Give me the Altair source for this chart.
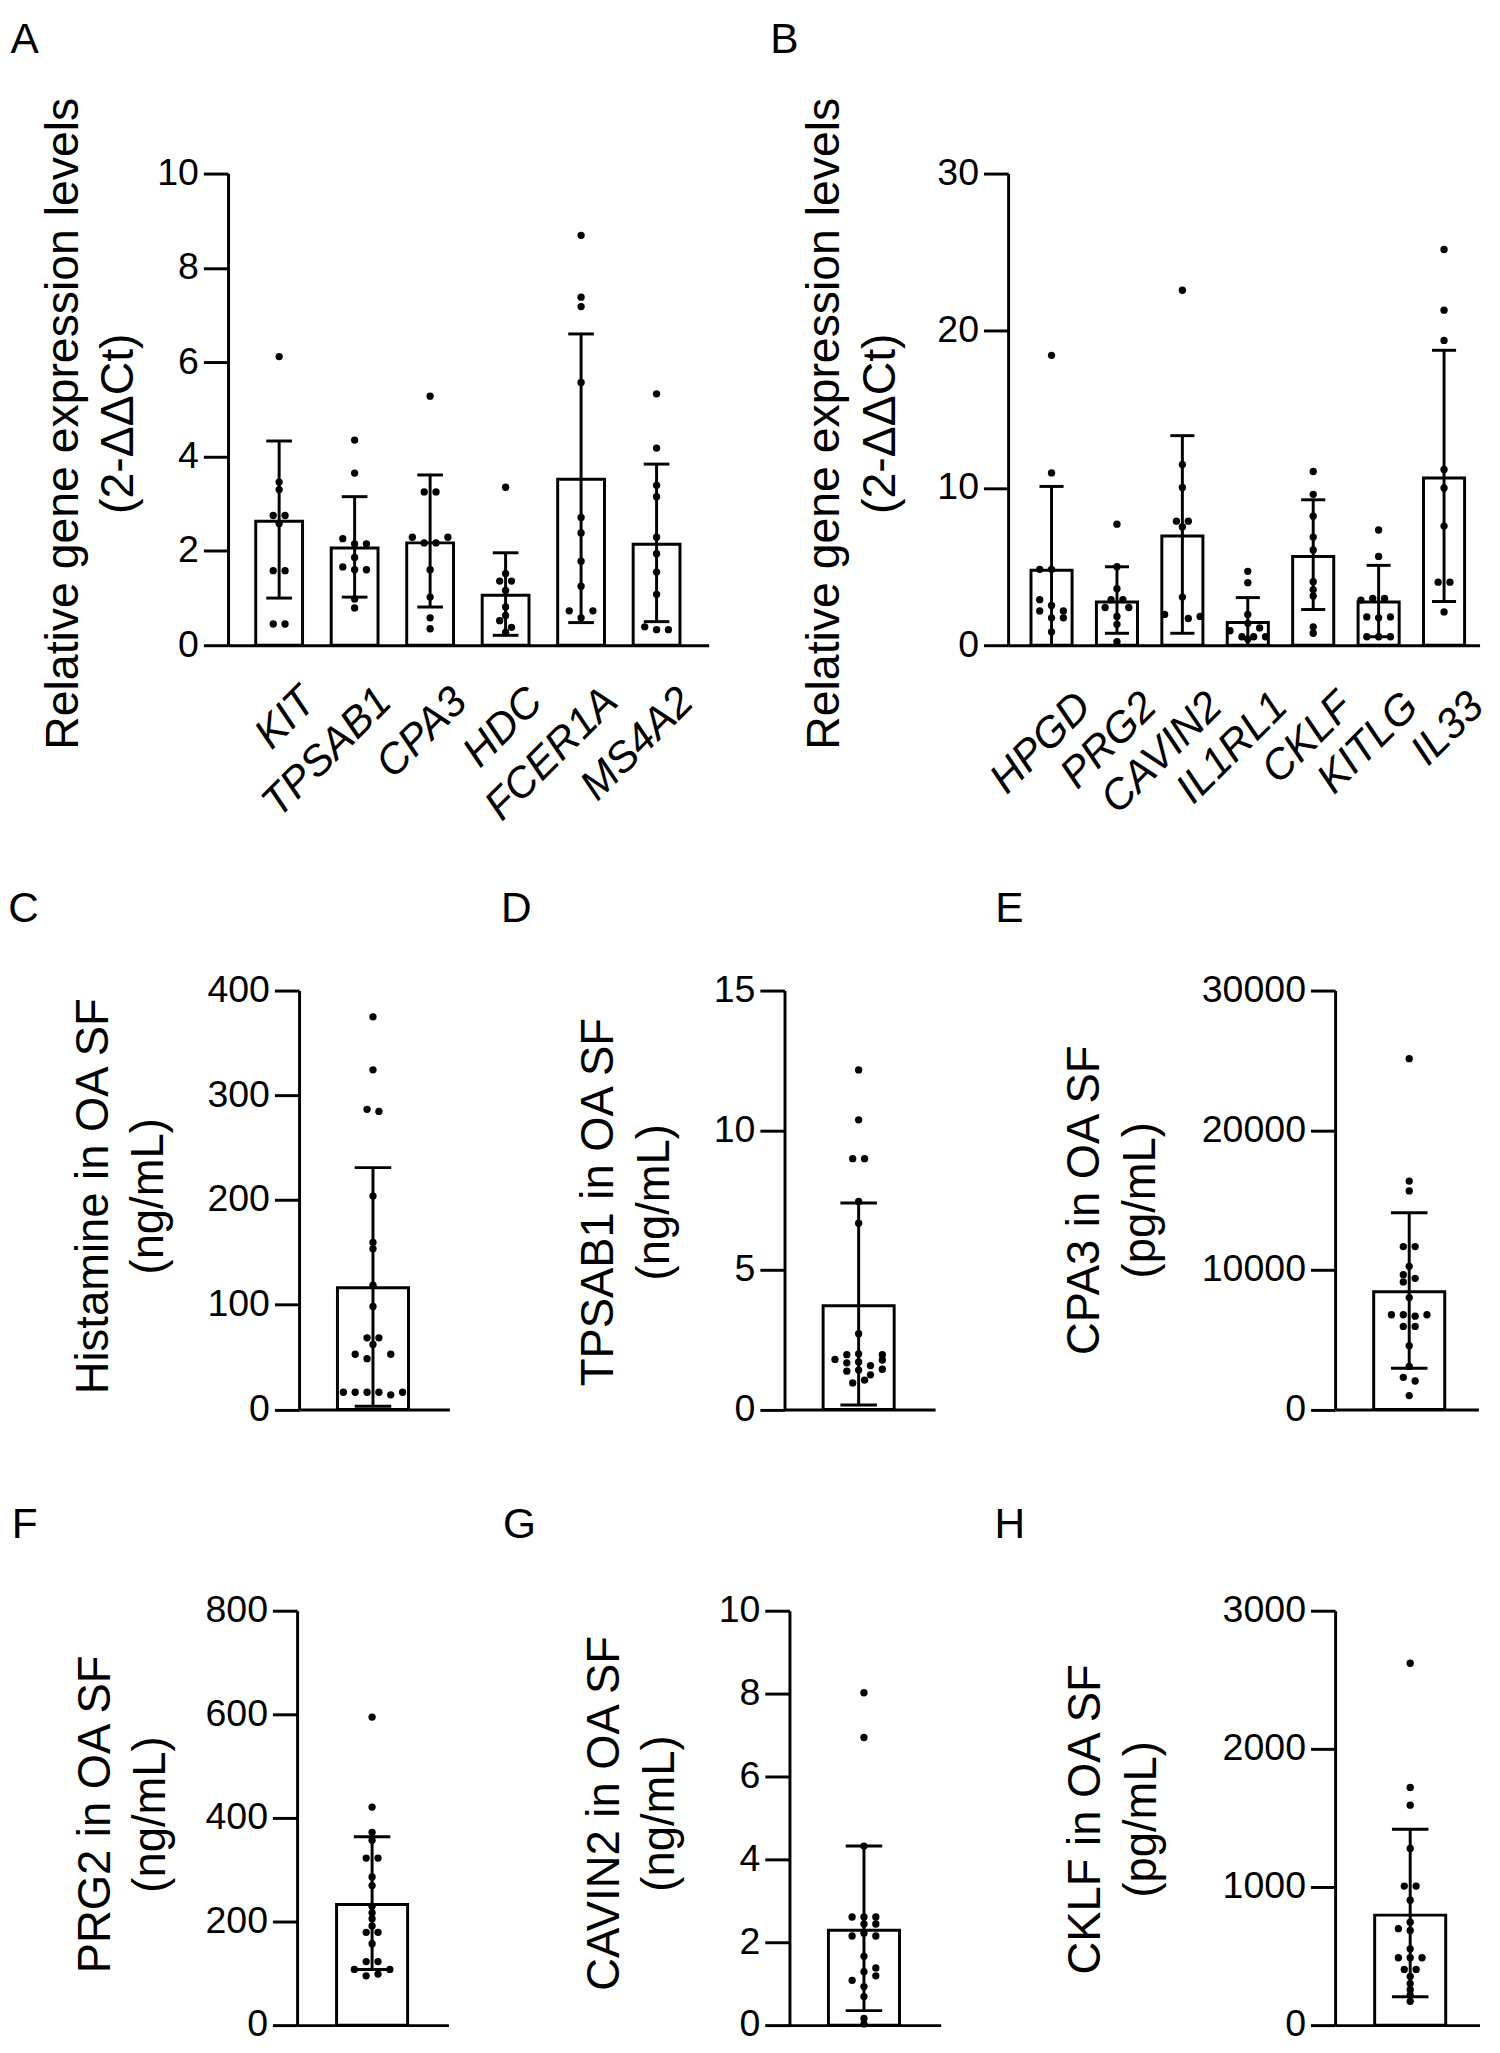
import json
import altair as alt
import pandas as pd

FONT = "Liberation Sans"

# ---------------- data ----------------
# Panel A
a_genes = ["KIT", "TPSAB1", "CPA3", "HDC", "FCER1A", "MS4A2"]
a_mean = [2.63, 2.06, 2.17, 1.06, 3.52, 2.14]
a_upper = [4.33, 3.15, 3.61, 1.96, 6.60, 3.84]
a_lower = [1.00, 1.02, 0.81, 0.21, 0.48, 0.50]
a_points = [
    [6.12, 3.46, 3.30, 2.75, 2.75, 2.58, 1.58, 1.58, 0.45, 0.45],
    [4.35, 3.65, 2.26, 2.15, 2.15, 1.86, 1.66, 1.60, 1.60, 0.98, 0.79],
    [5.28, 3.25, 3.25, 2.29, 2.29, 2.17, 2.17, 1.60, 1.02, 0.58, 0.35],
    [3.35, 1.52, 1.36, 1.36, 1.16, 0.81, 0.63, 0.52, 0.38, 0.27],
    [8.69, 7.38, 7.18, 5.57, 2.71, 2.38, 1.78, 1.25, 0.73, 0.73, 0.58],
    [5.33, 4.18, 3.39, 3.15, 2.29, 1.94, 1.55, 1.08, 0.39, 0.33, 0.33],
]
a_jitter = [
    [0, 0, 0, -1, 1, 0, -1, 1, -1, 1],
    [0, 0, -2, 0, 2, 0, -2, 0, 2, 0, 0],
    [0, -1, 1, -3, 3, -1, 1, 0, 0, 0, 0],
    [0, 0, -1, 1, 0, 0, 0, -1, 1, 0],
    [0, 0, 0, 0, 0, 0, 0, 0, -2, 2, 0],
    [0, 0, 0, 0, 0, 0, 0, 0, -2, 0, 2],
]

# Panel B
b_genes = ["HPGD", "PRG2", "CAVIN2", "IL1RL1", "CKLF", "KITLG", "IL33"]
b_mean = [4.77, 2.75, 6.95, 1.45, 5.65, 2.75, 10.64]
b_upper = [10.10, 4.99, 13.33, 3.03, 9.25, 5.08, 18.76]
b_lower = [0.0, 0.76, 0.76, 0.0, 2.27, 0.54, 2.78]
b_points = [
    [18.44, 10.96, 4.83, 4.83, 2.90, 2.53, 2.18, 2.18, 1.74, 1.74, 0.85],
    [7.70, 4.99, 3.60, 2.90, 2.90, 2.40, 2.40, 1.83, 1.33, 0.22],
    [22.58, 11.49, 10.04, 7.89, 7.89, 7.52, 3.06, 1.96, 1.83, 1.70],
    [4.70, 3.98, 1.96, 1.39, 1.10, 0.92, 0.54, 0.54, 0.54, 0.38],
    [11.05, 9.60, 8.21, 6.88, 6.06, 4.04, 3.54, 3.13, 1.17, 0.76],
    [7.33, 5.65, 2.97, 2.97, 2.87, 1.80, 1.74, 1.80, 0.54, 0.54, 0.54],
    [25.17, 21.31, 19.39, 11.18, 10.00, 7.58, 4.01, 4.01, 2.12],
]
b_jitter = [
    [0, 0, -2, 0, -2, 0, -2, 2, 0, 2, 0],
    [0, 0, 0, -1, 1, -2, 2, 0, 0, 0],
    [0, 0, 0, -1, 1, 0, 0, -3, 3, 1],
    [0, 0, 0, 0, 2, -3, -1, 1, 3, 0],
    [0, 0, 0, 0, 0, 0, 0, 0, 0, 0],
    [0, 0, -1, 1, -3, -2, 0, 2, -2, 0, 2],
    [0, 0, 0, 0, 0, 0, -1, 1, 0],
]

# Panel C: Histamine (ng/mL)
c_mean, c_upper, c_lower = 116.1, 230.9, 3.1
c_points = [374.9, 324.3, 286.6, 284.6, 203.7, 159.4, 153.4, 118.6, 98.3, 68.4, 68.4,
            62.1, 52.7, 52.7, 48.5, 16.4, 16.4, 16.4, 16.4, 16.4, 13.9]
c_jitter = [0, 0, -1, 1, 0, 0, 0, 0, 0, -1, 1, 0, -3, 3, -1, -5, -3, -1, 1, 5, 3]

# Panel D: TPSAB1 (ng/mL)
d_mean, d_upper, d_lower = 3.71, 7.39, 0.16
d_points = [12.16, 10.37, 8.98, 8.98, 7.45, 6.67, 2.71, 1.79, 1.96, 1.67, 1.37,
            1.99, 1.70, 1.41, 1.57, 1.96, 1.77, 1.44, 0.95, 1.05, 1.24]
d_jitter = [0, 0, -1, 1, 0, 0, 0, -4, -2, -2, -2, 0, 0, 0, 2, 4, 4, 4, -1, 1, 2]

# Panel E: CPA3 (pg/mL)
e_mean, e_upper, e_lower = 8426, 14087, 2948
e_points = [25122, 16357, 15652, 11661, 11661, 10252, 9652, 9391, 9130, 8009, 6783,
            6783, 6678, 6783, 5948, 5948, 4565, 3078, 2296, 2035, 991]
e_jitter = [0, 0, 0, -1, 1, 0, -1, 1, -1, 0, -3, -1, 1, 3, -1, 1, 0, 0, -1, 1, 0]

# Panel F: PRG2 (ng/mL)
f_mean, f_upper, f_lower = 232.9, 363.8, 107.5
f_points = [594.7, 421.0, 372.1, 357.0, 322.5, 322.5, 286.0, 269.4, 229.5, 217.0, 205.3,
            191.6, 179.2, 179.2, 157.1, 122.7, 122.7, 107.5, 107.5, 98.5, 95.1]
f_jitter = [0, 0, 0, 0, -1, 1, 0, 0, 0, 0, 0, 0, -1, 1, 0, -1, 1, -3, 3, 1, -1]

# Panel G: CAVIN2 (ng/mL)
g_mean, g_upper, g_lower = 2.29, 4.32, 0.35
g_points = [8.02, 6.94, 4.32, 2.61, 2.61, 2.61, 2.44, 2.44, 2.22, 2.15, 2.15, 1.66,
            1.38, 1.29, 1.19, 1.08, 0.93, 0.69, 0.16, 0.03]
g_jitter = [0, 0, 0, -2, 0, 2, 0, 2, 0, -2, 2, 0, 2, 0, 2, -2, 0, 0, 0, 0]

# Panel H: CKLF (pg/mL)
h_mean, h_upper, h_lower = 796.2, 1417.8, 205.5
h_points = [2619.9, 1721, 1592.5, 1279, 1006.8, 1006.8, 904, 744.9, 698.6, 685.8, 552.2,
            488, 488, 488, 403, 403, 352, 300.5, 256.8, 218.3, 172]
h_jitter = [0, 0, 0, 0, -1, 1, 0, 0, -2, 0, 0, -2, 0, 2, -1, 1, 0, 0, 0, 0, 0]

# y axis tick values and titles
a_ticks = [0, 2, 4, 6, 8, 10]
b_ticks = [0, 10, 20, 30]
c_ticks = [0, 100, 200, 300, 400]
d_ticks = [0, 5, 10, 15]
e_ticks = [0, 10000, 20000, 30000]
f_ticks = [0, 200, 400, 600, 800]
g_ticks = [0, 2, 4, 6, 8, 10]
h_ticks = [0, 1000, 2000, 3000]

rel_title = ["Relative gene expression levels", "(2-ΔΔCt)"]
c_title = ["Histamine in OA SF", "(ng/mL)"]
d_title = ["TPSAB1 in OA SF", "(ng/mL)"]
e_title = ["CPA3 in OA SF", "(pg/mL)"]
f_title = ["PRG2 in OA SF", "(ng/mL)"]
g_title = ["CAVIN2 in OA SF", "(ng/mL)"]
h_title = ["CKLF in OA SF", "(pg/mL)"]


# ---------------- helpers ----------------
def y_axis(title, ticks, title_x, title_y, title_size):
    return alt.Axis(
        values=ticks, format="d", title=title, grid=False,
        domainColor="black", domainWidth=3, tickColor="black", tickWidth=3, tickSize=25,
        labelFont=FONT, labelFontSize=38, labelColor="black", labelPadding=5,
        labelFlush=False, labelOverlap=False,
        titleFont=FONT, titleFontSize=title_size, titleFontWeight="normal", titleColor="black",
        titleAngle=270, titleAlign="center", titleBaseline="alphabetic",
        titleX=title_x, titleY=title_y, titleLineHeight=56,
    )


def x_axis_plain():
    return alt.Axis(labels=False, ticks=False, grid=False, title=None,
                    domainColor="black", domainWidth=3)


def x_axis_genes(genes, label_offset, label_padding):
    return alt.Axis(
        values=list(range(len(genes))),
        labelExpr=json.dumps(genes) + "[round(datum.value)]",
        ticks=False, grid=False, title=None, domainColor="black", domainWidth=3,
        labelAngle=315, labelAlign="right", labelBaseline="top",
        labelFont=FONT, labelFontSize=43, labelFontStyle="italic", labelColor="black",
        labelPadding=label_padding, labelOffset=label_offset,
        labelFlush=False, labelOverlap=False,
    )


def panel(letter, geo, centers, means, uppers, lowers, points, jitters,
          ymax, yticks, ytitle, xaxis):
    bars = pd.DataFrame({
        "xc": centers,
        "x0": [c - geo["bar_half"] for c in centers],
        "x1": [c + geo["bar_half"] for c in centers],
        "mean": means, "zero": [0.0] * len(centers),
        "upper": uppers, "lower": lowers,
    })
    cap_rows = []
    for c, u, l in zip(centers, uppers, lowers):
        cap_rows.append({"c0": c - geo["cap_half"], "c1": c + geo["cap_half"], "v": u})
        if l > 0:
            cap_rows.append({"c0": c - geo["cap_half"], "c1": c + geo["cap_half"], "v": l})
    caps = pd.DataFrame(cap_rows)
    dot_rows = []
    for c, pts, jit in zip(centers, points, jitters):
        for v, j in zip(pts, jit):
            dot_rows.append({"xp": c + j * geo["slot"], "v": v})
    dots = pd.DataFrame(dot_rows)

    xs = alt.Scale(domain=geo["xdom"], nice=False, zero=False)
    ys = alt.Scale(domain=[0, ymax], nice=False, zero=False)
    yax = y_axis(ytitle, yticks, geo["title_x"], geo["title_y"], geo.get("title_size", 46))

    def X(f):
        return alt.X(f, type="quantitative", scale=xs, axis=xaxis)

    def Y(f):
        return alt.Y(f, type="quantitative", scale=ys, axis=yax)

    bar = alt.Chart(bars).mark_bar(fill="white", stroke="black", strokeWidth=3).encode(
        x=X("x0"), x2="x1", y=Y("mean"), y2="zero")
    err = alt.Chart(bars).mark_rule(color="black", strokeWidth=3).encode(
        x=X("xc"), y=Y("lower"), y2="upper")
    cap = alt.Chart(caps).mark_rule(color="black", strokeWidth=3).encode(
        x=X("c0"), x2="c1", y=Y("v"))
    dot = alt.Chart(dots).mark_circle(size=55, color="black", opacity=1).encode(
        x=X("xp"), y=Y("v"))
    lab = alt.Chart(pd.DataFrame({"t": [letter]})).mark_text(
        align="left", baseline="alphabetic", font=FONT, fontSize=43, color="black").encode(
        x=alt.value(geo["letter_dx"]), y=alt.value(geo["letter_dy"]), text="t:N")

    return alt.layer(bar, err, cap, dot, lab).properties(
        width=geo["width"], height=geo["height"])


def spacer(w):
    return alt.Chart(pd.DataFrame({"s": [0]})).mark_point(opacity=0, size=1).encode(
        x=alt.X("s:Q", axis=None, scale=alt.Scale(domain=[0, 1])),
        y=alt.Y("s:Q", axis=None, scale=alt.Scale(domain=[0, 1])),
    ).properties(width=w, height=10)


def single(letter, geo, mean, upper, lower, points, jitter, ymax, yticks, ytitle):
    return panel(letter, geo, [0.0], [mean], [upper], [lower], [points], [jitter],
                 ymax, yticks, ytitle, x_axis_plain())


# ---------------- layout (pixels) ----------------
GEO_A = dict(width=487.1, height=478, xdom=[-0.677, 5.690], slot=0.0784, bar_half=0.31,
             cap_half=0.17, title_x=-152.5, title_y=253, letter_dx=-220.5, letter_dy=-122.6,
             title_size=47)
GEO_B = dict(width=477.8, height=478, xdom=[-0.6637, 6.543], slot=0.0905, bar_half=0.314,
             cap_half=0.184, title_x=-171.5, title_y=253, letter_dx=-241.2, letter_dy=-122.6,
             title_size=47)


def geo_single(width, xdom, title_x, title_y, letter_dx, letter_dy, height):
    return dict(width=width, height=height, xdom=xdom, slot=6, bar_half=36, cap_half=18.5,
                title_x=title_x, title_y=title_y, letter_dx=letter_dx, letter_dy=letter_dy)


GEO_C = geo_single(152.4, [-74.9, 77.5], -194.3, 208, -294.7, -69.6, 424.5)
GEO_D = geo_single(152.6, [-75.1, 77.5], -174.0, 214, -287.4, -69.6, 424.5)
GEO_E = geo_single(145.3, [-75.1, 70.2], -239.4, 212, -344.4, -69.6, 424.5)
GEO_F = geo_single(153.4, [-76.0, 77.4], -190.6, 206, -289.1, -74.1, 420)
GEO_G = geo_single(153.3, [-75.5, 77.8], -173.3, 205, -290.3, -74.1, 420)
GEO_H = geo_single(146.3, [-76.1, 70.2], -238.4, 211, -345.1, -74.1, 420)

pA = panel("A", GEO_A, list(range(len(a_genes))), a_mean, a_upper, a_lower, a_points,
           a_jitter, 10, a_ticks, rel_title, x_axis_genes(a_genes, 15, 35))
pB = panel("B", GEO_B, list(range(len(b_genes))), b_mean, b_upper, b_lower, b_points,
           b_jitter, 30, b_ticks, rel_title, x_axis_genes(b_genes, 18, 40))
pC = single("C", GEO_C, c_mean, c_upper, c_lower, c_points, c_jitter, 400, c_ticks, c_title)
pD = single("D", GEO_D, d_mean, d_upper, d_lower, d_points, d_jitter, 15, d_ticks, d_title)
pE = single("E", GEO_E, e_mean, e_upper, e_lower, e_points, e_jitter, 30000, e_ticks, e_title)
pF = single("F", GEO_F, f_mean, f_upper, f_lower, f_points, f_jitter, 800, f_ticks, f_title)
pG = single("G", GEO_G, g_mean, g_upper, g_lower, g_points, g_jitter, 10, g_ticks, g_title)
pH = single("H", GEO_H, h_mean, h_upper, h_lower, h_points, h_jitter, 3000, h_ticks, h_title)

row1 = alt.hconcat(pA, pB, spacing=302.6, bounds="flush")
row2 = alt.hconcat(spacer(71.8), pC, spacer(339.0), pD, spacer(404.4), pE,
                   spacing=0, bounds="flush")
row3 = alt.hconcat(spacer(69.8), pF, spacer(344.3), pG, spacer(398.4), pH,
                   spacing=0, bounds="flush")

chart = alt.vconcat(
    row1, alt.vconcat(row2, row3, spacing=75.5), spacing=60
).properties(
    padding={"top": -3, "left": 0, "right": 0, "bottom": 0}, background="white"
).configure_view(stroke=None)

chart.save("out.html", embed_options={"renderer": "svg", "actions": False})
